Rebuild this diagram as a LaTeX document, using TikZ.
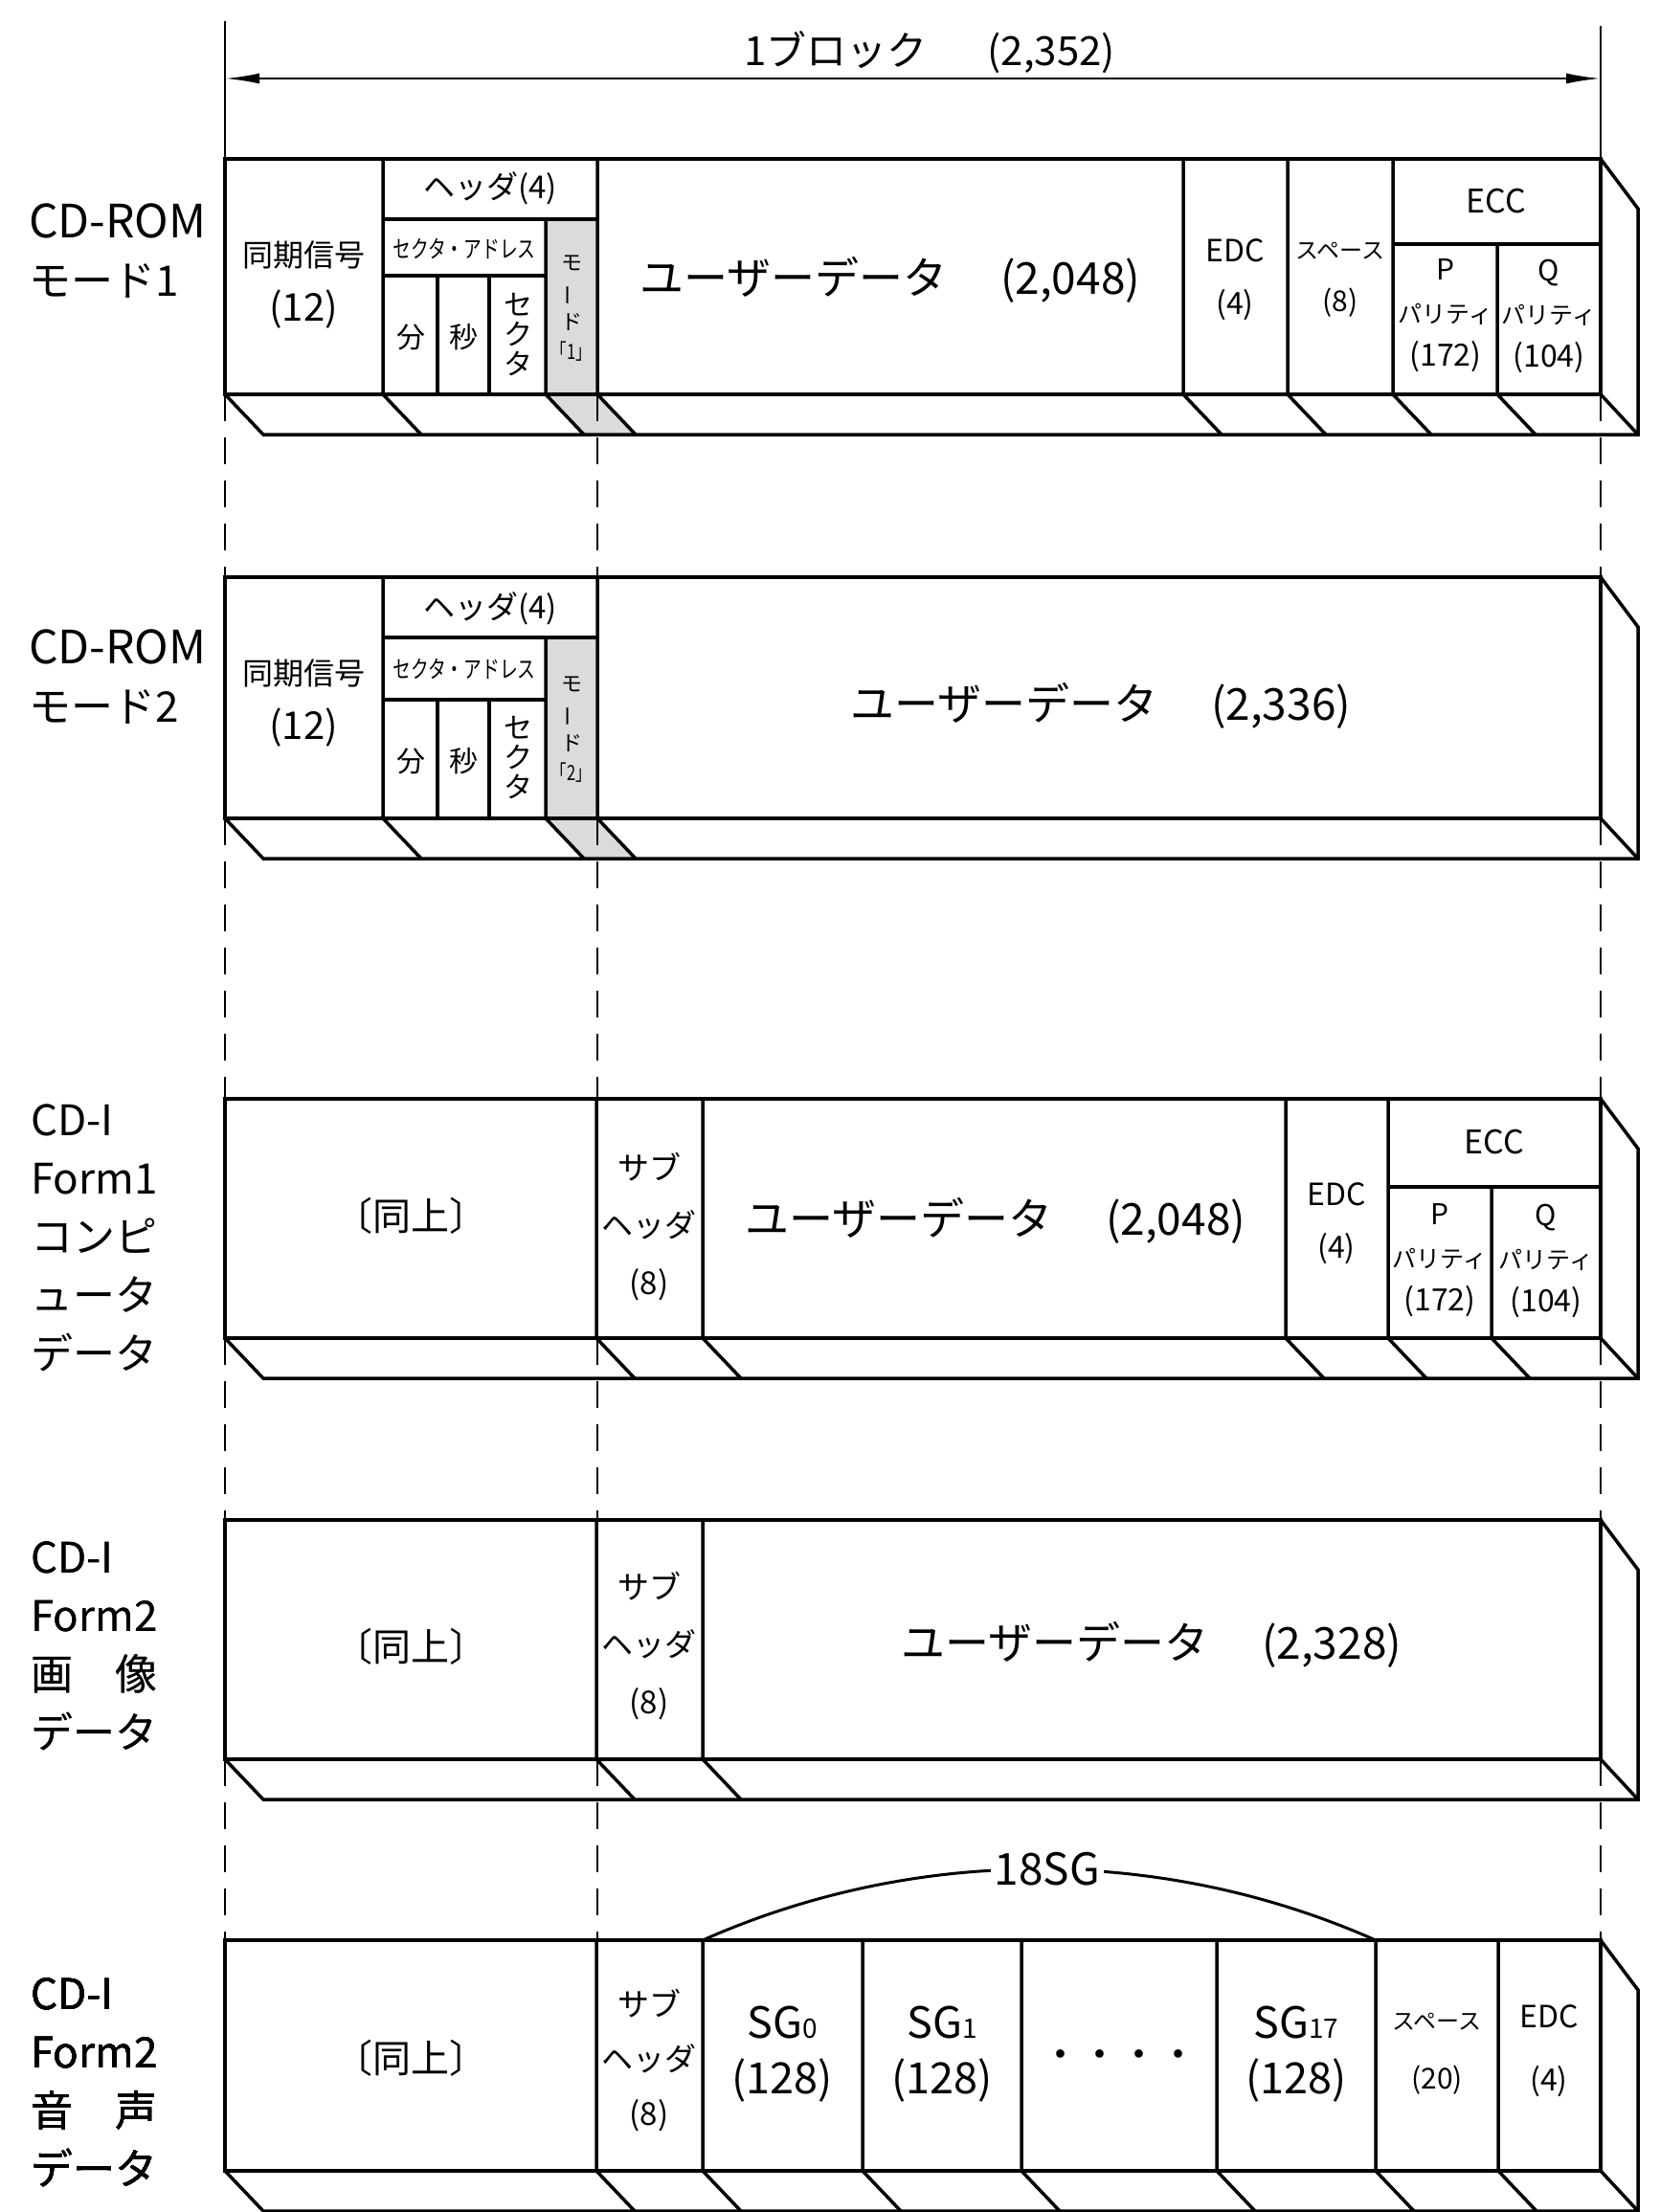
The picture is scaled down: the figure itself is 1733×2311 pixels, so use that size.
\documentclass[tikz,border=0pt]{standalone}
\usepackage{fontspec}
\usepackage{graphicx}
\setmainfont{Noto Sans CJK JP}
\newfontfamily\narrowjp[FakeStretch=0.75]{Noto Sans CJK JP}
\usetikzlibrary{arrows.meta}
\newcommand\fsz[2]{\fontsize{#1}{#2}\selectfont}
\newcommand\vbar{\rotatebox[origin=c]{90}{ー}}
% one sector as a slab: front face, floor and right wall (top y, bottom y)
\newcommand\slab[2]{%
  \draw[wall] (235,#2)--(275,#2+42)--(1711,#2+42)--(1711,#1+52)--(1672,#1);
  \draw[wall] (1672,#2)--(1711,#2+42);
  \draw[front] (235,#1) rectangle (1672,#2);}
% field boundary running down and across the floor
\newcommand\cut[3]{\draw[wall] (#1,#2)--(#1,#3)--(#1+40,#3+42);}
\tikzset{
  front/.style={line width=4.5pt},
  wall/.style={line width=3.5pt},
  guide/.style={line width=2.5pt,dash pattern=on 28pt off 17pt},
  span/.style={line width=2.5pt,{Latex[length=36pt,width=11pt]}-{Latex[length=36pt,width=11pt]}},
  cell/.style={inner sep=0pt,align=center},
  rowlbl/.style={inner sep=0pt,align=left,anchor=west,font=\fsz{44}{61}},
  shade/.style={fill=black!14,draw=none},
}

\begin{document}
\begin{tikzpicture}[x=1pt,y=-1pt]
  \useasboundingbox (0,0) rectangle (1733,2311);
  % mode byte is shaded
  \foreach \t/\b in {229/412,666/855}
    \fill[shade] (570,\t)--(624,\t)--(624,\b)--(664,\b+42)--(610,\b+42)--(570,\b)--cycle;
  \foreach \x in {235,624,1672}
    \foreach \a/\b in {412/603,855/1148,1398/1588,1838/2027}
      \draw[guide] (\x,\a)--(\x,\b);
  % one block
  \coordinate (bl) at (235,82);
  \coordinate (br) at (1672,82);
  \draw[line width=2.5pt] (235,22)--(235,166) (1672,27)--(1672,166);
  \draw[span] (bl)--(br);
  \node[cell,font=\fsz{42}{42}] (blk) at (971,55) {1ブロック\hspace{1.5em}(2,352)};

  % CD-ROM mode 1
  \slab{166}{412}
  \foreach \x/\t in {400/166,570/229,624/166,1236/166,1345/166,1455/166,1564/255} \cut{\x}{\t}{412}
  \draw[wall] (400,229)--(624,229) (400,288)--(570,288) (457,288)--(457,412)
    (511,288)--(511,412) (1455,255)--(1672,255);
  \node[rowlbl] (lbl1) at (30,262) {{\fsz{48}{61}CD-ROM}\\モード1};
  \node[cell,font=\fsz{32}{57}] (r1sync) at (317,298) {同期信号\\{\fsz{40}{40}(12)}};
  \node[cell,font=\fsz{33}{33}] (r1hdr) at (512,197) {ヘッダ(4)};
  \node[cell,font=\fsz{25}{25}\narrowjp] (r1addr) at (485,260) {セクタ・アドレス};
  \node[cell,font=\fsz{30}{30}] (r1min) at (429,352) {分};
  \node[cell,font=\fsz{30}{30}] (r1sec) at (484,352) {秒};
  \node[cell,font=\fsz{30}{31}] (r1sct) at (541,350) {セ\\ク\\タ};
  \node[cell,font=\fsz{22}{31}] (r1mode) at (597,322) {モ\\\vbar\\ド\\{\narrowjp 「1」}};
  \node[cell,font=\fsz{46}{46}] (r1data) at (930,292) {ユーザーデータ\hspace{1.2em}(2,048)};
  \node[cell,font=\fsz{32}{55}] (r1edc) at (1290,292) {EDC\\(4)};
  \node[cell,font=\fsz{24}{55}] (r1spc) at (1400,292) {スペース\\{\fsz{30}{30}(8)}};
  \node[cell,font=\fsz{34}{34}] (r1ecc) at (1563,210) {ECC};
  \node[cell,font=\fsz{25}{45}] (r1p) at (1510,330) {{\fsz{30}{30}P}\\パリティ\\{\fsz{32}{32}(172)}};
  \node[cell,font=\fsz{25}{45}] (r1q) at (1618,330) {{\fsz{30}{30}Q}\\パリティ\\{\fsz{32}{32}(104)}};

  % CD-ROM mode 2
  \slab{603}{855}
  \foreach \x/\t in {400/603,570/666,624/603} \cut{\x}{\t}{855}
  \draw[wall] (400,666)--(624,666) (400,731)--(570,731) (457,731)--(457,855)
    (511,731)--(511,855);
  \node[rowlbl] (lbl2) at (30,707) {{\fsz{48}{61}CD-ROM}\\モード2};
  \node[cell,font=\fsz{32}{57}] (r2sync) at (317,735) {同期信号\\{\fsz{40}{40}(12)}};
  \node[cell,font=\fsz{33}{33}] (r2hdr) at (512,636) {ヘッダ(4)};
  \node[cell,font=\fsz{25}{25}\narrowjp] (r2addr) at (485,699) {セクタ・アドレス};
  \node[cell,font=\fsz{30}{30}] (r2min) at (429,795) {分};
  \node[cell,font=\fsz{30}{30}] (r2sec) at (484,795) {秒};
  \node[cell,font=\fsz{30}{31}] (r2sct) at (541,792) {セ\\ク\\タ};
  \node[cell,font=\fsz{22}{31}] (r2mode) at (597,762) {モ\\\vbar\\ド\\{\narrowjp 「2」}};
  \node[cell,font=\fsz{46}{46}] (r2data) at (1150,737) {ユーザーデータ\hspace{1.2em}(2,336)};

  % CD-I form 1
  \slab{1148}{1398}
  \foreach \x/\t in {623/1148,734/1148,1343/1148,1450/1148,1558/1240} \cut{\x}{\t}{1398}
  \draw[wall] (1450,1240)--(1672,1240);
  \node[rowlbl] (lbl3) at (32,1293) {CD-I\\Form1\\コンピ\\ュータ\\データ};
  \node[cell,font=\fsz{40}{40}] (r3same) at (429,1270) {〔同上〕};
  \node[cell,font=\fsz{33}{60}] (r3sub) at (678,1282) {サブ\\ヘッダ\\(8)};
  \node[cell,font=\fsz{46}{46}] (r3data) at (1040,1275) {ユーザーデータ\hspace{1.2em}(2,048)};
  \node[cell,font=\fsz{32}{55}] (r3edc) at (1396,1278) {EDC\\(4)};
  \node[cell,font=\fsz{34}{34}] (r3ecc) at (1561,1193) {ECC};
  \node[cell,font=\fsz{25}{45}] (r3p) at (1504,1317) {{\fsz{30}{30}P}\\パリティ\\{\fsz{32}{32}(172)}};
  \node[cell,font=\fsz{25}{45}] (r3q) at (1615,1317) {{\fsz{30}{30}Q}\\パリティ\\{\fsz{32}{32}(104)}};

  % CD-I form 2, picture
  \slab{1588}{1838}
  \foreach \x in {623,734} \cut{\x}{1588}{1838}
  \node[rowlbl] (lbl4) at (32,1720) {CD-I\\Form2\\画　像\\データ};
  \node[cell,font=\fsz{40}{40}] (r4same) at (429,1720) {〔同上〕};
  \node[cell,font=\fsz{33}{60}] (r4sub) at (678,1720) {サブ\\ヘッダ\\(8)};
  \node[cell,font=\fsz{46}{46}] (r4data) at (1203,1718) {ユーザーデータ\hspace{1.2em}(2,328)};

  % CD-I form 2, sound
  \slab{2027}{2268}
  \foreach \x in {623,734,901,1067,1271,1437,1565} \cut{\x}{2027}{2268}
  \node[rowlbl] (lbl5) at (32,2176) {CD-I\\Form2\\音　声\\データ};
  \node[cell,font=\fsz{40}{40}] (r5same) at (429,2150) {〔同上〕};
  \node[cell,font=\fsz{33}{57}] (r5sub) at (678,2153) {サブ\\ヘッダ\\(8)};
  \node[cell,font=\fsz{45}{58}] (sg0) at (817,2146) {SG{\fsz{28}{28}0}\\(128)};
  \node[cell,font=\fsz{45}{58}] (sg1) at (984,2146) {SG{\fsz{28}{28}1}\\(128)};
  \node[cell,font=\fsz{41}{41}] (sgdots) at (1169,2152) {・・・・};
  \node[cell,font=\fsz{45}{58}] (sg17) at (1354,2146) {SG{\fsz{28}{28}17}\\(128)};
  \node[cell,font=\fsz{24}{62}] (r5spc) at (1501,2146) {スペース\\{\fsz{30}{30}(20)}};
  \node[cell,font=\fsz{32}{66}] (r5edc) at (1618,2143) {EDC\\(4)};
  \coordinate (sgl) at (734,2027);
  \coordinate (sgr) at (1437,2027);
  \draw[line width=3pt] (sgl) .. controls (957,1928) and (1214,1928) .. (sgr);
  \node[cell,fill=white,inner xsep=4pt,font=\fsz{46}{46}] (sgn) at (1094,1953) {18SG};
\end{tikzpicture}
\end{document}
